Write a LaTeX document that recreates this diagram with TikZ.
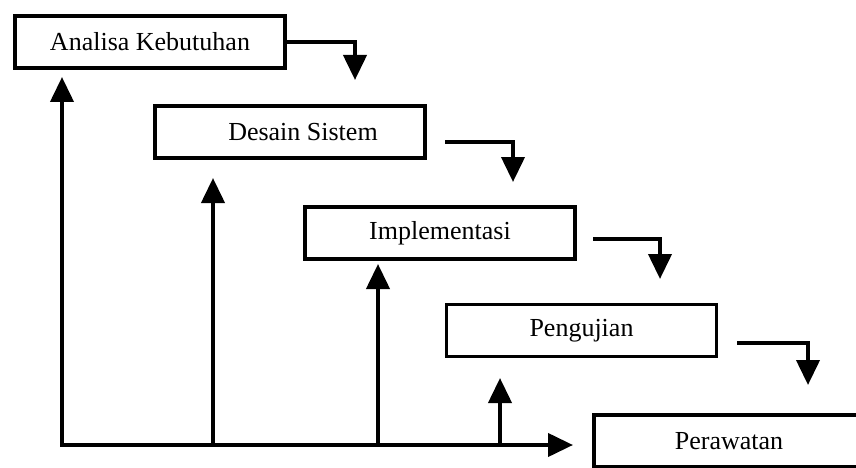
\documentclass[tikz,border=0pt]{standalone}
\usepackage{fontspec}
\setmainfont{Liberation Serif}
\usetikzlibrary{arrows.meta}
\begin{document}
\begin{tikzpicture}[x=1pt,y=-1pt,
  phase/.style={draw=black,line width=3.8pt,fill=white,minimum width=270pt,
    minimum height=52pt,inner sep=0pt,font=\fontsize{26}{30}\selectfont},
  flow/.style={line width=4pt,line join=miter,
    -{Triangle[width=23pt,length=25pt]}}]
\useasboundingbox (0,0) rectangle (856,468);
\clip (0,0) rectangle (856,468);
\fill[white] (0,0) rectangle (856,468);

% waterfall phases
\node[phase] (b1) at (150,42)  {Analisa Kebutuhan};
\node[phase] (b2) at (290,132) {\hspace*{26pt}Desain Sistem};
\node[phase] (b3) at (440,233) {Implementasi};
\node[phase] (b4) at (581.5,330.5) {Pengujian};
\node[phase] (b5) at (729,441) {Perawatan};

% forward steps
\coordinate (s1) at (287,42);   \coordinate (t1) at (355,80);
\coordinate (s2) at (445,142);  \coordinate (t2) at (513,182);
\coordinate (s3) at (593,239);  \coordinate (t3) at (660,279);
\coordinate (s4) at (737,343);  \coordinate (t4) at (808,385);
\draw[flow] (s1) -| (t1);
\draw[flow] (s2) -| (t2);
\draw[flow] (s3) -| (t3);
\draw[flow] (s4) -| (t4);

% feedback lines
\coordinate (c0) at (62,445);
\coordinate (q1) at (62,77);
\coordinate (q5) at (573,445);
\coordinate (c2) at (213,445);  \coordinate (q2) at (213,178);
\coordinate (c3) at (378,445);  \coordinate (q3) at (378,264);
\coordinate (c4) at (500,445);  \coordinate (q4) at (500,378);
\draw[flow,{Triangle[width=23pt,length=25pt]}-{Triangle[width=23pt,length=25pt]}]
  (q1) -- (c0) -- (q5);
\draw[flow] (c2) -- (q2);
\draw[flow] (c3) -- (q3);
\draw[flow] (c4) -- (q4);
\end{tikzpicture}
\end{document}
